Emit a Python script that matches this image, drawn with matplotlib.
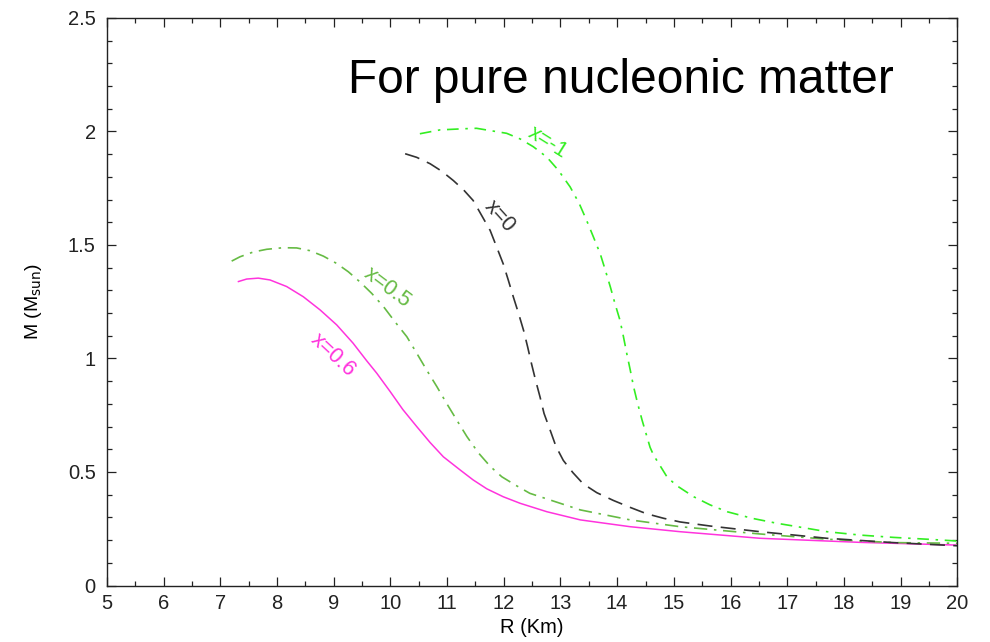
import matplotlib
matplotlib.use("Agg")
import matplotlib.pyplot as plt
from matplotlib.ticker import MultipleLocator

plt.rcParams["font.family"] = ["Liberation Sans", "DejaVu Sans"]

# mass-radius curves, R in km, M in solar masses
r_x06 = [7.32, 7.465, 7.67, 7.876, 8.17, 8.464, 8.76, 9.053, 9.34, 9.582,
         9.76, 9.994, 10.22, 10.465, 10.70, 10.934, 11.23, 11.46, 11.70, 11.99,
         12.29, 12.76, 13.35, 14.23, 15.11, 16.52, 18.29, 20.0]
m_x06 = [1.339, 1.350, 1.354, 1.346, 1.317, 1.272, 1.214, 1.148, 1.068, 0.99,
         0.935, 0.855, 0.775, 0.700, 0.630, 0.567, 0.509, 0.465, 0.426, 0.391,
         0.362, 0.325, 0.289, 0.259, 0.237, 0.208, 0.190, 0.178]

r_x05 = [7.20, 7.347, 7.58, 7.818, 8.11, 8.347, 8.58, 8.817, 9.05, 9.258,
         9.46, 9.67, 9.88, 10.08, 10.29, 10.465, 10.64, 10.82, 10.99, 11.17,
         11.35, 11.55, 11.76, 11.965, 12.20, 12.46, 13.35, 14.23, 15.11, 16.52,
         17.70, 18.87, 20.0]
m_x05 = [1.429, 1.448, 1.469, 1.481, 1.488, 1.487, 1.475, 1.451, 1.419, 1.382,
         1.338, 1.287, 1.228, 1.162, 1.096, 1.023, 0.949, 0.876, 0.803, 0.729,
         0.656, 0.585, 0.525, 0.479, 0.443, 0.406, 0.333, 0.289, 0.259, 0.227,
         0.204, 0.189, 0.186]

r_x0 = [10.26, 10.465, 10.70, 10.906, 11.11, 11.29, 11.46, 11.61, 11.76, 11.876,
        11.99, 12.08, 12.17, 12.26, 12.35, 12.42, 12.49, 12.56, 12.64, 12.71,
        12.82, 12.92, 13.05, 13.22, 13.40, 13.64, 13.93, 14.23, 14.52, 14.82,
        15.11, 15.64, 16.52, 17.70, 18.87, 20.0]
m_x0 = [1.902, 1.886, 1.858, 1.825, 1.784, 1.743, 1.696, 1.630, 1.564, 1.49,
        1.417, 1.345, 1.270, 1.199, 1.123, 1.052, 0.976, 0.905, 0.830, 0.758,
        0.683, 0.613, 0.551, 0.497, 0.448, 0.409, 0.375, 0.344, 0.316, 0.296,
        0.280, 0.262, 0.237, 0.208, 0.189, 0.175]

r_xm1 = [10.52, 10.876, 11.29, 11.52, 11.76, 12.05, 12.29, 12.52, 12.76, 12.96,
         13.17, 13.33, 13.46, 13.58, 13.70, 13.79, 13.88, 13.96, 14.05, 14.11,
         14.17, 14.23, 14.29, 14.36, 14.41, 14.44, 14.58, 14.64, 14.88, 15.05,
         15.35, 15.64, 15.94, 16.38, 16.82, 17.11, 17.70, 18.29, 18.87, 19.46, 20.0]
m_xm1 = [1.990, 2.007, 2.012, 2.014, 2.004, 1.992, 1.967, 1.933, 1.887, 1.83,
         1.756, 1.683, 1.609, 1.536, 1.462, 1.39, 1.315, 1.243, 1.168, 1.097,
         1.021, 0.95, 0.875, 0.803, 0.756, 0.728, 0.609, 0.575, 0.478, 0.44,
         0.391, 0.355, 0.325, 0.296, 0.274, 0.262, 0.237, 0.222, 0.212, 0.204, 0.196]

fig = plt.figure(figsize=(9.9, 6.42), dpi=100)
ax = fig.add_axes([0.108, 0.088, 0.859, 0.884])

ax.plot(r_x06, m_x06, color="#ff33dd", lw=1.1, ls="-")
ax.plot(r_x05, m_x05, color="#66bb44", lw=1.2, ls=(0, (8, 4, 1.5, 4)))
ax.plot(r_x0, m_x0, color="#333333", lw=1.2, ls=(0, (9, 5)))
ax.plot(r_xm1, m_xm1, color="#33ee22", lw=1.2, ls=(0, (7, 4, 1.5, 4)))

# curve labels
ax.text(8.99, 1.014, "x=0.6", color="#ff33dd", fontsize=15.5, rotation=-43,
        ha="center", va="center")
ax.text(9.94, 1.314, "x=0.5", color="#66bb44", fontsize=15.5, rotation=-37,
        ha="center", va="center")
ax.text(11.93, 1.627, "x=0", color="#333333", fontsize=15.5, rotation=-48,
        ha="center", va="center")
ax.text(12.78, 1.949, "x=-1", color="#33ee22", fontsize=15.5, rotation=-32,
        ha="center", va="center")

ax.text(0.2835, 0.89, "For pure nucleonic matter", transform=ax.transAxes,
        fontsize=34.5, color="black", ha="left", va="center")

ax.set_xlim(5, 20)
ax.set_ylim(0, 2.5)
ax.xaxis.set_major_locator(MultipleLocator(1))
ax.xaxis.set_minor_locator(MultipleLocator(0.5))
ax.yaxis.set_major_locator(MultipleLocator(0.5))
ax.yaxis.set_minor_locator(MultipleLocator(0.1))
ax.set_yticks([0, 0.5, 1, 1.5, 2, 2.5])
ax.set_yticklabels(["0", "0.5", "1", "1.5", "2", "2.5"])

ax.tick_params(which="both", direction="in", top=True, right=True,
               colors="#222222", labelsize=14.5, width=0.9)
ax.tick_params(which="major", length=6.5)
ax.tick_params(which="minor", length=3.5)
ax.tick_params(axis="x", pad=6)
ax.tick_params(axis="y", pad=8)
for s in ax.spines.values():
    s.set_linewidth(1.0)
    s.set_color("#222222")

ax.set_xlabel("R (Km)", fontsize=14.5, labelpad=4)
ax.set_ylabel(r"M (M$_{\mathrm{sun}}$)", fontsize=14, labelpad=17)

plt.savefig("out.png", dpi=100)
